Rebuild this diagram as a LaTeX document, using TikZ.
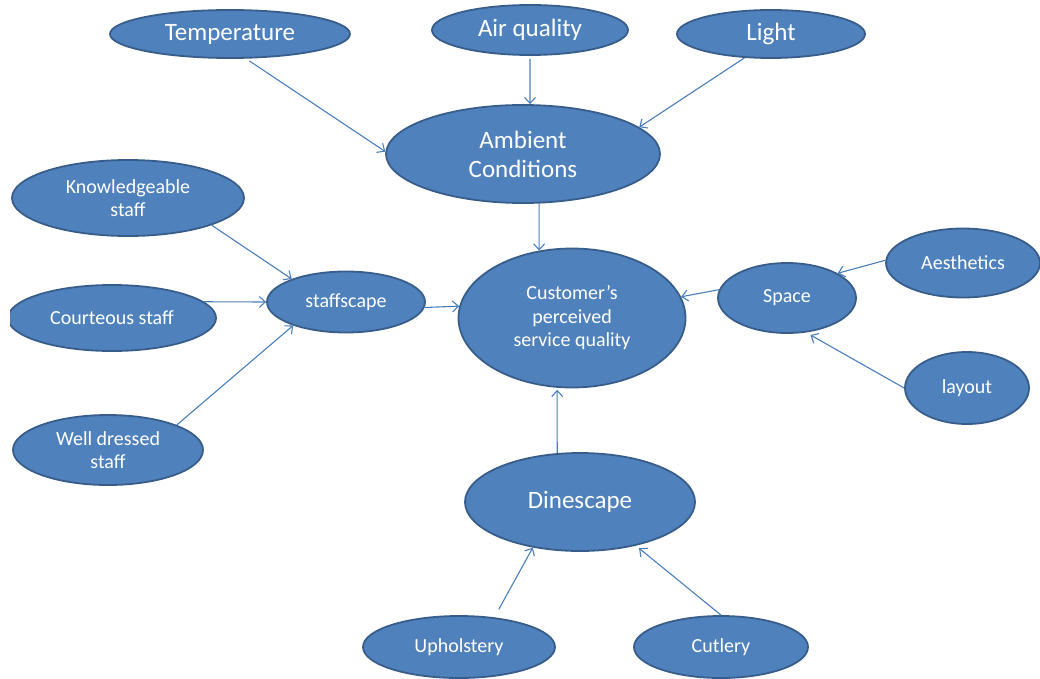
\documentclass[tikz,border=0pt]{standalone}
\usepackage{fontspec}
\setmainfont{Carlito}
\usetikzlibrary{shapes.geometric,arrows.meta}
\definecolor{bubblefill}{HTML}{4F81BD}
\definecolor{bubbleedge}{HTML}{385D8A}
\definecolor{linkblue}{HTML}{4A7EBB}

\begin{document}
\begin{tikzpicture}[
		x=1pt, y=-1pt,
		bubble/.style = {ellipse, draw=bubbleedge, fill=bubblefill, line width=1.8pt, inner sep=0pt,
			text=white, align=center, font=\fontsize{20}{23.5}\selectfont},
		big/.style = {bubble, font=\fontsize{25}{29}\selectfont},
		link/.style = {->, draw=linkblue, line width=1.1pt, >={Straight Barb[length=6pt,width=11pt]}}
	]
	\useasboundingbox (0,0) rectangle (1040,679);
	\clip (10,0) rectangle (1040,679);
	% Centre.
	\node[bubble, minimum width=227pt, minimum height=139pt] (cust) at (572,318) {Customer’s\\perceived\\service quality};
	% Ambient conditions.
	\node[big, minimum width=274pt, minimum height=98pt] (amb) at (523,154) {Ambient\\Conditions};
	\node[big, minimum width=240pt, minimum height=48pt] (temp) at (230,34) {Temperature};
	\node[big, minimum width=196pt, minimum height=50pt] (air) at (530,30) {Air quality};
	\node[big, minimum width=188pt, minimum height=48pt] (light) at (771,34) {Light};
	% Staffscape.
	\node[bubble, minimum width=158pt, minimum height=61pt] (staff) at (346,302) {staffscape};
	\node[bubble, minimum width=232pt, minimum height=76pt] (know) at (128,198) {Knowledgeable\\staff};
	\node[bubble, minimum width=208pt, minimum height=66pt] (court) at (112,318) {Courteous staff};
	\node[bubble, minimum width=190pt, minimum height=70pt] (dress) at (108,450) {Well dressed\\staff};
	% Space.
	\node[bubble, minimum width=138pt, minimum height=70pt] (space) at (787,298) {Space};
	\node[bubble, minimum width=154pt, minimum height=69pt] (aes) at (963,263) {Aesthetics};
	\node[bubble, minimum width=124pt, minimum height=72pt] (lay) at (967,388) {layout};
	% Dinescape.
	\node[big, minimum width=230pt, minimum height=98pt] (dine) at (580,502) {Dinescape};
	\node[bubble, minimum width=192pt, minimum height=62pt] (uph) at (459,647) {Upholstery};
	\node[bubble, minimum width=174pt, minimum height=62pt] (cut) at (721,647) {Cutlery};

	\draw[link, shorten <=4pt] (temp.-57) to (amb.179);
	\draw[link, shorten <=3pt] (air.-90) to (amb.82);
	\draw[link] (light.222) to (amb.13);
	\draw[link] (amb.-72) to (cust.116);
	\draw[link] (know.-18) to (staff.157);
	\draw[link] (court.10) to (staff.180);
	\draw[link] (dress.20) to (staff.204);
	\draw[link] (staff.-4) to (cust.174);
	\draw[link] (space.173) to (cust.11);
	\draw[link] (aes.178) to (space.26);
	\draw[link, shorten >=5pt] (lay.180) to (space.-61);
	\draw[link, shorten >=2pt] (dine.115) to (cust.-102);
	\draw[link, shorten <=9pt] (uph.40) to (dine.224);
	\draw[link, shorten >=4pt] (cut.90) to (dine.-38);
\end{tikzpicture}
\end{document}
